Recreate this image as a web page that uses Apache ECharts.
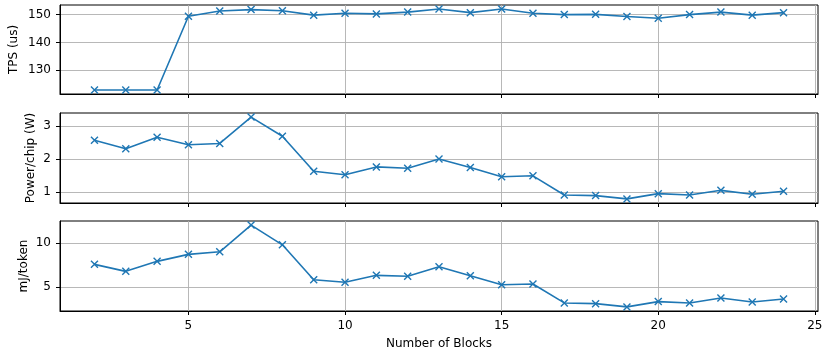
<!DOCTYPE html>
<html>
<head>
<meta charset="utf-8">
<script src="https://cdn.jsdelivr.net/npm/echarts@6/dist/echarts.min.js"></script>
<style>html,body{margin:0;padding:0;background:#fff}#c{width:825px;height:349px}</style>
</head>
<body>
<div id="c"></div>
<script>
const blocks = [2,3,4,5,6,7,8,9,10,11,12,13,14,15,16,17,18,19,20,21,22,23,24];
const tps = [122.9,122.9,122.9,149.4,151.3,151.8,151.4,149.8,150.5,150.25,150.9,152.0,150.7,152.0,150.5,150.0,150.1,149.3,148.7,150.0,150.9,149.8,150.7];
const powerPerChip = [2.57,2.31,2.66,2.43,2.47,3.27,2.69,1.63,1.52,1.76,1.72,2.00,1.74,1.46,1.49,0.91,0.89,0.79,0.95,0.91,1.05,0.93,1.02];
const mjPerToken = [7.56,6.77,7.90,8.69,8.98,12.0,9.77,5.82,5.53,6.32,6.21,7.29,6.27,5.26,5.34,3.20,3.12,2.75,3.35,3.20,3.76,3.31,3.65];
const xTicks = [5,10,15,20,25];
const tpsTicks = [130,140,150];
const powerTicks = [1,2,3];
const mjTicks = [5,10];
const yNames = ['TPS (us)','Power/chip (W)','mJ/token'];
const xName = 'Number of Blocks';

const FONT = 'DejaVu Sans';
const BLUE = '#1f77b4';
const X_SYM = 'path://M0,0L10,10M10,0L0,10';

function pad(vals){
  const mn = Math.min(...vals), mx = Math.max(...vals), r = mx - mn;
  return [mn - 0.05*r, mx + 0.05*r];
}
const xr = pad(blocks);
const grids = [
  {left:60, top:5, width:758, height:89},
  {left:60, top:113, width:758, height:90},
  {left:60, top:221, width:758, height:90}
].map(g => Object.assign(g, {show:true, borderColor:'#000', borderWidth:1, backgroundColor:'transparent', containLabel:false, outerBoundsMode:'none'}));

const series = [tps, powerPerChip, mjPerToken];
const yTicks = [tpsTicks, powerTicks, mjTicks];
const nameGaps = [40, 23, 30];

const xAxes = [0,1,2].map(i => ({
  type:'value', gridIndex:i, min:xr[0], max:xr[1],
  axisLine:{show:true, lineStyle:{color:'#000', width:1}},
  axisTick:{show:true, length:4, lineStyle:{color:'#000'}, customValues:xTicks},
  axisLabel:{show:i===2, customValues:xTicks, margin:9, color:'#000', fontFamily:FONT, fontSize:12},
  splitLine:{show:true, lineStyle:{color:'#b0b0b0', width:0.9}},
  name: i===2 ? xName : '', nameLocation:'middle', nameGap:27, nameMoveOverlap:false,
  nameTextStyle:{color:'#000', fontFamily:FONT, fontSize:12}
}));
const yAxes = [0,1,2].map(i => {
  const r = pad(series[i]);
  return {
    type:'value', gridIndex:i, min:r[0], max:r[1],
    axisLine:{show:true, lineStyle:{color:'#000', width:1}},
    axisTick:{show:true, length:4, lineStyle:{color:'#000'}, customValues:yTicks[i]},
    axisLabel:{customValues:yTicks[i], margin:9, color:'#000', fontFamily:FONT, fontSize:12},
    splitLine:{show:true, lineStyle:{color:'#b0b0b0', width:0.9}},
    name:yNames[i], nameLocation:'middle', nameGap:nameGaps[i], nameRotate:90, nameMoveOverlap:false,
    nameTextStyle:{color:'#000', fontFamily:FONT, fontSize:12}
  };
});
const seriesOpts = [0,1,2].map(i => ({
  type:'line', xAxisIndex:i, yAxisIndex:i,
  data: blocks.map((b,j) => [b, series[i][j]]),
  symbol:X_SYM, symbolSize:7, showSymbol:true,
  lineStyle:{color:BLUE, width:1.6},
  itemStyle:{color:BLUE, borderColor:BLUE, borderWidth:1.4},
  animation:false, silent:true
}));

const chart = echarts.init(document.getElementById('c'), null, {renderer:'canvas'});
chart.setOption({
  animation:false,
  backgroundColor:'#fff',
  textStyle:{fontFamily:FONT},
  grid:grids, xAxis:xAxes, yAxis:yAxes, series:seriesOpts
});
</script>
</body>
</html>
